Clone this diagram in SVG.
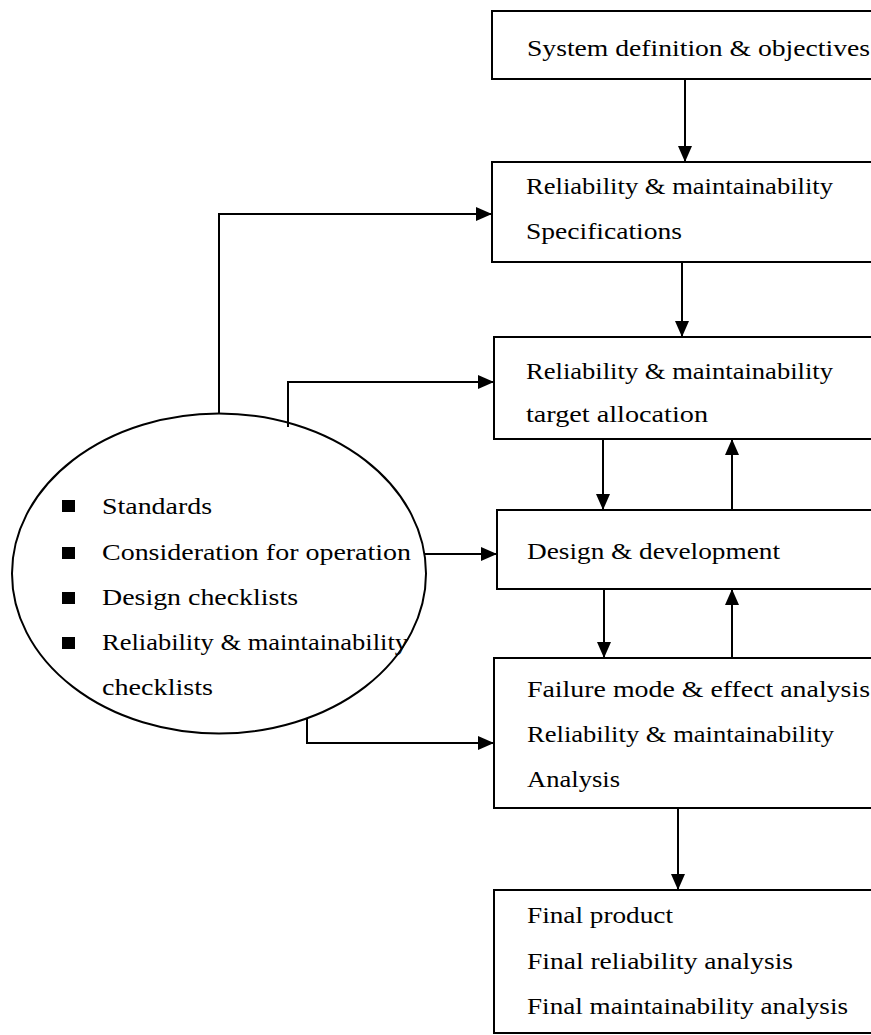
<svg xmlns="http://www.w3.org/2000/svg" width="871" height="1035" viewBox="0 0 871 1035">
<style>
  .box { fill: #fff; stroke: #000; stroke-width: 2; }
  .t { font-family: "Liberation Serif", "Times New Roman", serif; font-size: 24px; fill: #000; }
  .conn { fill: none; stroke: #000; stroke-width: 2; }
  .bul { fill: #000; }
</style>
<defs>
  <marker id="ah" viewBox="0 0 16 14" refX="16" refY="7" markerWidth="16" markerHeight="14" markerUnits="userSpaceOnUse" orient="auto">
    <path d="M0,0 L16,7 L0,14 z" fill="#000"/>
  </marker>
</defs>
<rect width="871" height="1035" fill="#fff"/>

<g id="n1">
  <rect class="box" x="492" y="11" width="400" height="68"/>
  <text class="t" x="527" y="56" textLength="343" lengthAdjust="spacingAndGlyphs">System definition &amp; objectives</text>
</g>
<g id="n2">
  <rect class="box" x="492" y="162" width="400" height="100"/>
  <text class="t" x="526" y="194" textLength="307" lengthAdjust="spacingAndGlyphs">Reliability &amp; maintainability</text>
  <text class="t" x="526" y="239" textLength="156" lengthAdjust="spacingAndGlyphs">Specifications</text>
</g>
<g id="n3">
  <rect class="box" x="494" y="337" width="400" height="102"/>
  <text class="t" x="526" y="379" textLength="307" lengthAdjust="spacingAndGlyphs">Reliability &amp; maintainability</text>
  <text class="t" x="526" y="422" textLength="182" lengthAdjust="spacingAndGlyphs">target allocation</text>
</g>
<g id="n4">
  <rect class="box" x="497" y="510" width="400" height="79"/>
  <text class="t" x="527" y="559" textLength="253" lengthAdjust="spacingAndGlyphs">Design &amp; development</text>
</g>
<g id="n5">
  <rect class="box" x="494" y="658" width="400" height="150"/>
  <text class="t" x="527" y="697" textLength="343" lengthAdjust="spacingAndGlyphs">Failure mode &amp; effect analysis</text>
  <text class="t" x="527" y="742" textLength="307" lengthAdjust="spacingAndGlyphs">Reliability &amp; maintainability</text>
  <text class="t" x="527" y="787" textLength="93" lengthAdjust="spacingAndGlyphs">Analysis</text>
</g>
<g id="n6">
  <rect class="box" x="494" y="890" width="400" height="143"/>
  <text class="t" x="527" y="923" textLength="146" lengthAdjust="spacingAndGlyphs">Final product</text>
  <text class="t" x="527" y="969" textLength="266" lengthAdjust="spacingAndGlyphs">Final reliability analysis</text>
  <text class="t" x="527" y="1014" textLength="321" lengthAdjust="spacingAndGlyphs">Final maintainability analysis</text>
</g>

<g id="connectors">
  <path class="conn" d="M685,80 V162" marker-end="url(#ah)"/>
  <path class="conn" d="M682,262 V337" marker-end="url(#ah)"/>
  <path class="conn" d="M603,439 V510" marker-end="url(#ah)"/>
  <path class="conn" d="M732,510 V439" marker-end="url(#ah)"/>
  <path class="conn" d="M604,589 V658" marker-end="url(#ah)"/>
  <path class="conn" d="M732,658 V589" marker-end="url(#ah)"/>
  <path class="conn" d="M678,808 V890" marker-end="url(#ah)"/>
  <path class="conn" d="M219,413 V214 H492" marker-end="url(#ah)"/>
  <path class="conn" d="M288,427 V382 H494" marker-end="url(#ah)"/>
  <path class="conn" d="M425,554 H497" marker-end="url(#ah)"/>
  <path class="conn" d="M307,718 V743 H494" marker-end="url(#ah)"/>
</g>

<g id="inputs">
  <ellipse cx="219" cy="573.5" rx="207" ry="160" fill="none" stroke="#000" stroke-width="2"/>
  <rect class="bul" x="62" y="500" width="13" height="12"/>
  <rect class="bul" x="62" y="547" width="13" height="12"/>
  <rect class="bul" x="62" y="592" width="13" height="12"/>
  <rect class="bul" x="62" y="637" width="13" height="12"/>
  <text class="t" x="102" y="514" textLength="110" lengthAdjust="spacingAndGlyphs">Standards</text>
  <text class="t" x="102" y="560" textLength="309" lengthAdjust="spacingAndGlyphs">Consideration for operation</text>
  <text class="t" x="102" y="605" textLength="196" lengthAdjust="spacingAndGlyphs">Design checklists</text>
  <text class="t" x="102" y="650" textLength="306" lengthAdjust="spacingAndGlyphs">Reliability &amp; maintainability</text>
  <text class="t" x="102" y="695" textLength="111" lengthAdjust="spacingAndGlyphs">checklists</text>
</g>
</svg>
